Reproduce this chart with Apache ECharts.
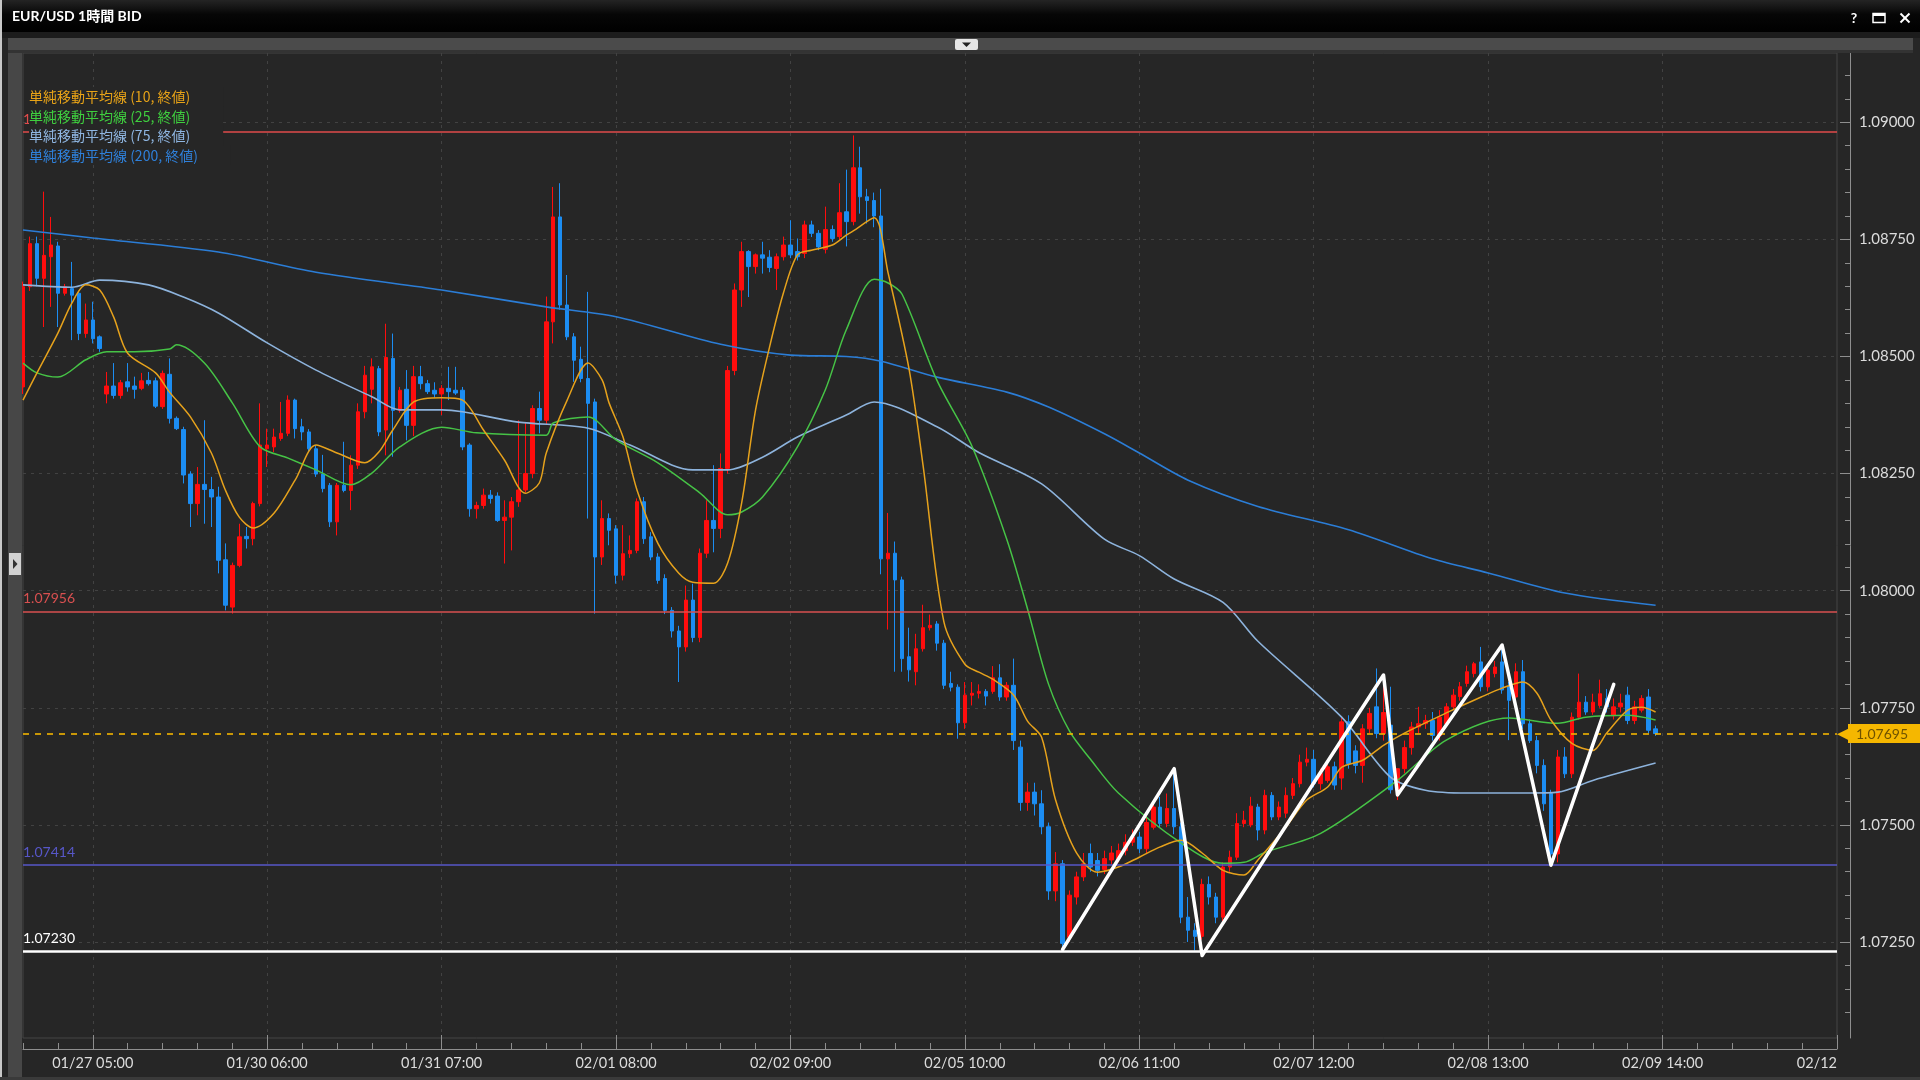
<!DOCTYPE html>
<html><head><meta charset="utf-8">
<script src="https://cdn.jsdelivr.net/npm/echarts@6/dist/echarts.min.js"></script>
<style>html,body{margin:0;padding:0;background:#262626;overflow:hidden}#c{width:1920px;height:1080px}</style>
</head><body><div id="c"></div>
<script>
// ---------- data ----------
const xTickIdx = [10,35,60,85,110,135,160,185,210,235,260];
const xTickLabels = ['01/27 05:00','01/30 06:00','01/31 07:00','02/01 08:00','02/02 09:00','02/05 10:00','02/06 11:00','02/07 12:00','02/08 13:00','02/09 14:00','02/12'];
const slotCount = 261;
const yTicks = [1.0725,1.0750,1.0775,1.0800,1.0825,1.0850,1.0875,1.0900];
const yMinorTicks = [1.0710,1.0715,1.0720,1.0730,1.0735,1.0740,1.0745,1.0755,1.0760,1.0765,1.0770,1.0780,1.0785,1.0790,1.0795,1.0805,1.0810,1.0815,1.0820,1.0830,1.0835,1.0840,1.0845,1.0855,1.0860,1.0865,1.0870,1.0880,1.0885,1.0890,1.0895,1.0905,1.0910];

const opens = [1.08435,1.08649,1.08741,1.08667,1.08713,1.08736,1.08635,1.08645,1.08635,1.08549,
1.08578,1.08542,1.08420,1.08437,1.08417,1.08446,1.08437,1.08432,1.08449,1.08448,
1.08393,1.08462,1.08368,1.08344,1.08249,1.08186,1.08227,1.08216,1.08200,1.08066,
1.07965,1.08054,1.08116,1.08111,1.08186,1.08303,1.08307,1.08325,1.08336,1.08407,
1.08350,1.08339,1.08303,1.08249,1.08225,1.08147,1.08225,1.08214,1.08268,1.08382,
1.08430,1.08474,1.08343,1.08496,1.08385,1.08430,1.08353,1.08457,1.08442,1.08428,
1.08420,1.08432,1.08428,1.08428,1.08311,1.08175,1.08182,1.08204,1.08202,1.08150,
1.08157,1.08190,1.08215,1.08250,1.08389,1.08364,1.08574,1.08798,1.08610,1.08542,
1.08494,1.08453,1.08403,1.08072,1.08154,1.08132,1.08033,1.08079,1.08086,1.08190,
1.08115,1.08072,1.08026,1.07958,1.07914,1.07880,1.07980,1.07900,1.08080,1.08150,
1.08133,1.08261,1.08470,1.08642,1.08724,1.08692,1.08717,1.08712,1.08688,1.08713,
1.08738,1.08724,1.08720,1.08781,1.08763,1.08729,1.08771,1.08756,1.08809,1.08788,
1.08903,1.08841,1.08833,1.08800,1.08068,1.08080,1.08023,1.07859,1.07827,1.07876,
1.07921,1.07929,1.07888,1.07802,1.07794,1.07718,1.07777,1.07781,1.07785,1.07785,
1.07814,1.07773,1.07798,1.07666,1.07548,1.07570,1.07545,1.07496,1.07359,1.07417,
1.07260,1.07346,1.07389,1.07439,1.07424,1.07405,1.07425,1.07428,1.07445,1.07463,
1.07474,1.07449,1.07495,1.07538,1.07503,1.07535,1.07496,1.07303,1.07275,1.07262,
1.07373,1.07346,1.07303,1.07410,1.07431,1.07503,1.07500,1.07538,1.07489,1.07563,
1.07517,1.07525,1.07563,1.07588,1.07634,1.07640,1.07588,1.07595,1.07624,1.07600,
1.07720,1.07658,1.07627,1.07705,1.07752,1.07695,1.07713,1.07575,1.07620,1.07665,
1.07709,1.07716,1.07723,1.07691,1.07716,1.07752,1.07774,1.07802,1.07823,1.07848,
1.07795,1.07823,1.07848,1.07795,1.07773,1.07827,1.07716,1.07680,1.07627,1.07567,
1.07438,1.07645,1.07609,1.07730,1.07762,1.07741,1.07755,1.07770,1.07733,1.07752,
1.07777,1.07723,1.07745,1.07773,1.07705];
const highs = [1.08660,1.08756,1.08756,1.08852,1.08798,1.08745,1.08655,1.08702,1.08640,1.08613,
1.08617,1.08545,1.08467,1.08486,1.08450,1.08486,1.08457,1.08465,1.08467,1.08455,
1.08470,1.08496,1.08372,1.08350,1.08255,1.08264,1.08364,1.08243,1.08222,1.08101,
1.08060,1.08143,1.08136,1.08190,1.08400,1.08346,1.08346,1.08403,1.08417,1.08410,
1.08367,1.08345,1.08310,1.08290,1.08230,1.08230,1.08318,1.08289,1.08400,1.08480,
1.08496,1.08480,1.08570,1.08549,1.08435,1.08471,1.08480,1.08480,1.08450,1.08445,
1.08439,1.08478,1.08478,1.08435,1.08315,1.08190,1.08218,1.08215,1.08210,1.08193,
1.08200,1.08364,1.08360,1.08396,1.08425,1.08628,1.08862,1.08870,1.08674,1.08550,
1.08521,1.08638,1.08410,1.08193,1.08165,1.08140,1.08140,1.08118,1.08197,1.08200,
1.08125,1.08080,1.08035,1.07965,1.07925,1.08011,1.08015,1.08090,1.08193,1.08268,
1.08293,1.08480,1.08656,1.08745,1.08727,1.08720,1.08745,1.08727,1.08720,1.08756,
1.08791,1.08752,1.08790,1.08790,1.08770,1.08820,1.08780,1.08870,1.08899,1.08972,
1.08948,1.08858,1.08850,1.08858,1.08166,1.08105,1.08030,1.07921,1.07908,1.07970,
1.07949,1.07935,1.07895,1.07827,1.07800,1.07805,1.07805,1.07800,1.07790,1.07839,
1.07843,1.07805,1.07855,1.07680,1.07590,1.07590,1.07574,1.07505,1.07442,1.07425,
1.07360,1.07400,1.07440,1.07460,1.07440,1.07445,1.07455,1.07460,1.07480,1.07490,
1.07485,1.07520,1.07550,1.07560,1.07567,1.07610,1.07505,1.07346,1.07290,1.07385,
1.07390,1.07355,1.07420,1.07445,1.07525,1.07530,1.07560,1.07545,1.07575,1.07570,
1.07550,1.07580,1.07600,1.07650,1.07665,1.07660,1.07620,1.07640,1.07635,1.07730,
1.07734,1.07670,1.07715,1.07750,1.07834,1.07800,1.07795,1.07620,1.07680,1.07720,
1.07752,1.07735,1.07741,1.07745,1.07760,1.07790,1.07805,1.07840,1.07848,1.07880,
1.07840,1.07850,1.07883,1.07805,1.07845,1.07852,1.07725,1.07690,1.07640,1.07575,
1.07660,1.07666,1.07740,1.07823,1.07775,1.07780,1.07810,1.07790,1.07770,1.07780,
1.07795,1.07765,1.07777,1.07790,1.07712];
const lows = [1.08420,1.08640,1.08650,1.08563,1.08606,1.08563,1.08630,1.08535,1.08535,1.08540,
1.08528,1.08510,1.08400,1.08410,1.08410,1.08425,1.08410,1.08428,1.08438,1.08390,
1.08388,1.08357,1.08343,1.08229,1.08136,1.08161,1.08143,1.08136,1.08037,1.07958,
1.07951,1.08050,1.08090,1.08097,1.08180,1.08264,1.08296,1.08320,1.08330,1.08325,
1.08321,1.08296,1.08243,1.08210,1.08136,1.08118,1.08210,1.08172,1.08260,1.08368,
1.08400,1.08330,1.08289,1.08286,1.08380,1.08321,1.08330,1.08430,1.08420,1.08412,
1.08375,1.08407,1.08418,1.08300,1.08158,1.08154,1.08175,1.08186,1.08147,1.08058,
1.08086,1.08179,1.08210,1.08240,1.08336,1.08355,1.08528,1.08600,1.08535,1.08446,
1.08445,1.08154,1.07951,1.08055,1.08097,1.08015,1.08022,1.08070,1.08080,1.08100,
1.08065,1.08015,1.07950,1.07900,1.07805,1.07870,1.07890,1.07890,1.08070,1.08082,
1.08112,1.08250,1.08460,1.08606,1.08627,1.08677,1.08677,1.08680,1.08642,1.08705,
1.08710,1.08705,1.08710,1.08755,1.08727,1.08720,1.08745,1.08750,1.08735,1.08780,
1.08805,1.08784,1.08776,1.08035,1.07917,1.07827,1.07827,1.07806,1.07798,1.07870,
1.07915,1.07872,1.07790,1.07785,1.07684,1.07705,1.07755,1.07770,1.07755,1.07780,
1.07765,1.07765,1.07660,1.07530,1.07530,1.07520,1.07480,1.07340,1.07337,1.07236,
1.07250,1.07330,1.07380,1.07400,1.07390,1.07395,1.07415,1.07420,1.07435,1.07455,
1.07440,1.07440,1.07490,1.07495,1.07495,1.07480,1.07290,1.07250,1.07232,1.07255,
1.07330,1.07290,1.07295,1.07400,1.07425,1.07495,1.07495,1.07467,1.07480,1.07510,
1.07510,1.07515,1.07555,1.07580,1.07625,1.07580,1.07575,1.07590,1.07575,1.07575,
1.07620,1.07610,1.07590,1.07695,1.07685,1.07680,1.07567,1.07553,1.07610,1.07650,
1.07695,1.07705,1.07680,1.07680,1.07710,1.07745,1.07765,1.07795,1.07815,1.07785,
1.07785,1.07815,1.07780,1.07681,1.07765,1.07705,1.07675,1.07610,1.07530,1.07420,
1.07420,1.07600,1.07600,1.07725,1.07735,1.07735,1.07750,1.07740,1.07725,1.07740,
1.07715,1.07715,1.07740,1.07695,1.07690];
const closes = [1.08649,1.08741,1.08667,1.08716,1.08738,1.08635,1.08649,1.08631,1.08549,1.08578,
1.08538,1.08517,1.08437,1.08417,1.08444,1.08435,1.08430,1.08448,1.08442,1.08394,
1.08464,1.08368,1.08346,1.08247,1.08186,1.08227,1.08216,1.08200,1.08065,1.07969,
1.08054,1.08115,1.08111,1.08186,1.08311,1.08311,1.08328,1.08336,1.08407,1.08346,
1.08339,1.08303,1.08249,1.08218,1.08147,1.08225,1.08214,1.08268,1.08382,1.08460,
1.08478,1.08339,1.08498,1.08385,1.08428,1.08353,1.08457,1.08442,1.08425,1.08420,
1.08432,1.08425,1.08422,1.08307,1.08175,1.08182,1.08204,1.08197,1.08150,1.08157,
1.08190,1.08215,1.08250,1.08389,1.08364,1.08574,1.08798,1.08610,1.08542,1.08492,
1.08453,1.08400,1.08072,1.08154,1.08129,1.08033,1.08079,1.08086,1.08190,1.08111,
1.08072,1.08022,1.07958,1.07914,1.07880,1.07980,1.07900,1.08080,1.08150,1.08133,
1.08261,1.08470,1.08642,1.08724,1.08692,1.08717,1.08710,1.08690,1.08713,1.08738,
1.08717,1.08713,1.08781,1.08763,1.08734,1.08771,1.08752,1.08807,1.08788,1.08903,
1.08841,1.08833,1.08800,1.08068,1.08080,1.08023,1.07855,1.07831,1.07876,1.07921,
1.07926,1.07888,1.07798,1.07794,1.07718,1.07777,1.07781,1.07785,1.07775,1.07814,
1.07773,1.07798,1.07680,1.07548,1.07570,1.07545,1.07496,1.07359,1.07417,1.07247,
1.07350,1.07389,1.07417,1.07410,1.07403,1.07428,1.07440,1.07445,1.07463,1.07474,
1.07449,1.07505,1.07538,1.07503,1.07535,1.07496,1.07303,1.07275,1.07262,1.07373,
1.07346,1.07303,1.07410,1.07431,1.07503,1.07510,1.07540,1.07489,1.07563,1.07517,
1.07538,1.07563,1.07588,1.07634,1.07640,1.07588,1.07610,1.07624,1.07585,1.07720,
1.07631,1.07627,1.07705,1.07738,1.07695,1.07740,1.07575,1.07620,1.07665,1.07709,
1.07716,1.07723,1.07691,1.07730,1.07752,1.07777,1.07795,1.07827,1.07844,1.07795,
1.07830,1.07837,1.07788,1.07766,1.07827,1.07716,1.07680,1.07627,1.07545,1.07438,
1.07645,1.07609,1.07730,1.07762,1.07741,1.07762,1.07780,1.07752,1.07752,1.07760,
1.07723,1.07752,1.07770,1.07702,1.07695];

const ma10 = [[0,1.08407],[2,1.08465],[5,1.08550],[7,1.08614],[9,1.08653],[11,1.08642],[13,1.08584],[15,1.08507],[19,1.08465],[21,1.08424],[24,1.08371],[27,1.08294],[29,1.08215],[31,1.08157],[33,1.08134],[36,1.08166],[39,1.08236],[42,1.08311],[45,1.08294],[49,1.08273],[51,1.08296],[53,1.08343],[56,1.08403],[60,1.08412],[63,1.08407],[66,1.08343],[69,1.08279],[72,1.08208],[74,1.08230],[75,1.08294],[78,1.08407],[81,1.08486],[83,1.08450],[84,1.08401],[86,1.08328],[88,1.08215],[91,1.08101],[94,1.08037],[96,1.08018],[99,1.08016],[101,1.08059],[103,1.08187],[105,1.08386],[107,1.08520],[109,1.08636],[111,1.08717],[113,1.08727],[116,1.08738],[118,1.08759],[119,1.08768],[122,1.08796],[124,1.08678],[127,1.08473],[129,1.08268],[132,1.07933],[135,1.07843],[137,1.07826],[139,1.07811],[142,1.07777],[144,1.07721],[146,1.07687],[148,1.07553],[151,1.07440],[154,1.07399],[157,1.07410],[160,1.07431],[163,1.07453],[166,1.07467],[169,1.07440],[172,1.07403],[175,1.07393],[177,1.07425],[181,1.07495],[184,1.07553],[187,1.07581],[189,1.07623],[192,1.07638],[195,1.07670],[198,1.07696],[204,1.07739],[209,1.07773],[212,1.07792],[215,1.07805],[217,1.07781],[219,1.07724],[222,1.07674],[225,1.07659],[227,1.07696],[230,1.07745],[232,1.07751],[234,1.07741]];
const ma25 = [[0,1.08486],[2,1.08465],[5,1.08456],[9,1.08493],[12,1.08510],[16,1.08510],[21,1.08516],[22,1.08525],[26,1.08486],[30,1.08401],[34,1.08307],[38,1.08283],[42,1.08258],[47,1.08226],[50,1.08251],[54,1.08307],[60,1.08349],[65,1.08337],[75,1.08332],[76,1.08358],[81,1.08371],[85,1.08322],[91,1.08273],[97,1.08209],[101,1.08162],[103,1.08168],[106,1.08200],[111,1.08307],[115,1.08429],[118,1.08557],[122,1.08665],[124,1.08657],[126,1.08633],[131,1.08449],[136,1.08309],[141,1.08110],[144,1.07960],[147,1.07800],[150,1.07700],[153,1.07640],[157,1.07568],[166,1.07461],[172,1.07418],[175,1.07420],[178,1.07441],[186,1.07482],[197,1.07595],[204,1.07681],[213,1.07728],[220,1.07717],[224,1.07730],[230,1.07734],[234,1.07724]];
const ma75 = [[0,1.08653],[7,1.08648],[11,1.08663],[18,1.08653],[23,1.08627],[28,1.08593],[35,1.08529],[42,1.08471],[50,1.08414],[54,1.08386],[60,1.08386],[63,1.08382],[71,1.08360],[81,1.08347],[87,1.08311],[96,1.08258],[101,1.08258],[106,1.08285],[111,1.08328],[118,1.08375],[122,1.08403],[131,1.08350],[137,1.08295],[146,1.08228],[155,1.08110],[160,1.08075],[165,1.08025],[172,1.07975],[177,1.07892],[189,1.07730],[196,1.07602],[201,1.07574],[207,1.07568],[216,1.07568],[220,1.07570],[225,1.07595],[234,1.07632]];
const ma200 = [[0,1.08770],[10,1.08753],[28,1.08723],[42,1.08680],[60,1.08642],[75,1.08606],[85,1.08585],[100,1.08526],[110,1.08503],[118,1.08500],[123,1.08490],[131,1.08456],[141,1.08424],[147,1.08392],[155,1.08335],[160,1.08294],[167,1.08236],[177,1.08180],[190,1.08130],[202,1.08068],[210,1.08038],[221,1.07995],[234,1.07969]];

const zigzagIdx = [149.1,164.9,168.9,195.1,197,212.3,219.2,227.6];
const zigzagPrice = [1.07234,1.07620,1.07221,1.07820,1.07564,1.07884,1.07414,1.07800];

const levelValues = [1.08979,1.07956,1.07414,1.07230];
const levelColors = ['#e04b4b','#d85050','#5757c8','#ffffff'];
const currentPrice = 1.07695;

const maNames = ['単純移動平均線 (10, 終値)','単純移動平均線 (25, 終値)','単純移動平均線 (75, 終値)','単純移動平均線 (200, 終値)'];
const maColors = ['#e6a21c','#46c346','#8db3dc','#2b7dd6'];
const maLegendColors = ['#e8a317','#3fcf3f','#8fb6e2','#2f80da'];

// ---------- build ----------
const cats = [];
for (let i = 0; i < slotCount; i++) cats.push(String(i));
const labelMap = {};
xTickIdx.forEach((v, k) => labelMap[v] = xTickLabels[k]);
const candles = opens.map((o, i) => [o, closes[i], lows[i], highs[i]]);
const zigzag = zigzagIdx.map((x, i) => [x, zigzagPrice[i]]);
const yMin = 1.07045, yMax = 1.09148;

const fontNum = 'Lato, "Noto Sans", sans-serif';
const fontJP = '"Noto Sans CJK JP", "Noto Sans", sans-serif';

const markLineData = levelValues.map((v, k) => ({
  yAxis: v,
  lineStyle: {color: levelColors[k], width: k === 3 ? 2.5 : 1.6, type: 'solid'},
  label: {show: true, position: 'insideStartTop', formatter: v.toFixed(5), color: levelColors[k], fontSize: 14, fontFamily: fontNum, distance: [0, 6]}
}));
markLineData.push({
  yAxis: currentPrice,
  lineStyle: {color: '#f2b300', width: 1.6, type: [6, 6]},
  label: {show: true, position: 'end', distance: 0,
    formatter: '{a|◀}{b|' + currentPrice.toFixed(5) + '}',
    rich: {
      a: {color: '#f5b700', fontSize: 18, lineHeight: 20, padding: [0, -3, 0, 0]},
      b: {backgroundColor: '#f5b700', color: '#6e5200', fontSize: 14, fontFamily: fontNum, padding: [3, 14, 2, 8], lineHeight: 15}
    }}
});

const chart = echarts.init(document.getElementById('c'), null, {width: 1920, height: 1080});
const option = {
  backgroundColor: '#262626',
  animation: false,
  textStyle: {fontFamily: fontNum},
  grid: {left: 23, right: 83, top: 53, bottom: 42, show: true, backgroundColor: '#262626', borderColor: '#454545', borderWidth: 1},
  legend: {
    left: 24, top: 87, orient: 'vertical', icon: 'none', itemWidth: 0, itemHeight: 14, itemGap: 0,
    padding: 0, selectedMode: false, z: 20,
    textStyle: {fontSize: 14, fontFamily: fontJP, lineHeight: 19.5, backgroundColor: '#262626', padding: [0, 33, 0, 0]},
    data: maNames.map((n, k) => ({name: n, textStyle: {color: maLegendColors[k]}}))
  },
  xAxis: [{
    type: 'category', data: cats, boundaryGap: false, position: 'bottom', offset: 11,
    axisLine: {show: true, lineStyle: {color: '#8e8e8e'}},
    axisTick: {show: true, inside: true, length: 14, interval: (i) => labelMap[i] !== undefined, lineStyle: {color: '#8e8e8e'}},
    axisLabel: {show: true, interval: (i) => labelMap[i] !== undefined, formatter: (v, i) => labelMap[i] || '', color: '#dcdcdc', fontSize: 14.5, fontFamily: fontNum, margin: 7, alignMaxLabel: 'right'},
    splitLine: {show: true, interval: (i) => labelMap[i] !== undefined && i < slotCount - 1, lineStyle: {color: '#424242', type: [3, 5]}}
  }, {
    type: 'category', data: cats, boundaryGap: false, position: 'bottom', offset: 11,
    axisLine: {show: false},
    axisTick: {show: true, inside: true, length: 6, interval: (i) => i % 5 === 0, lineStyle: {color: '#8e8e8e'}},
    axisLabel: {show: false}, splitLine: {show: false}
  }],
  yAxis: [{
    type: 'value', position: 'right', min: yMin, max: yMax, offset: 13,
    axisLine: {show: true, lineStyle: {color: '#8e8e8e'}},
    axisTick: {show: true, inside: true, length: 10, customValues: yTicks, lineStyle: {color: '#8e8e8e'}},
    axisLabel: {show: true, customValues: yTicks, formatter: (v) => v.toFixed(5), color: '#dcdcdc', fontSize: 15, fontFamily: fontNum, margin: 9},
    splitLine: {show: true, lineStyle: {color: '#424242', type: [3, 5]}}
  }, {
    type: 'value', position: 'right', min: yMin, max: yMax, offset: 13,
    axisLine: {show: false},
    axisTick: {show: true, inside: true, length: 5, customValues: yMinorTicks, lineStyle: {color: '#8e8e8e'}},
    axisLabel: {show: false}, splitLine: {show: false}
  }],
  series: [
    {type: 'candlestick', name: 'EUR/USD', data: candles, barWidth: 4, z: 2,
      itemStyle: {color: '#ff0d0d', color0: '#1c8df2', borderColor: '#ff0d0d', borderColor0: '#1c8df2', borderWidth: 1}},
    {type: 'line', name: maNames[3], data: ma200, smooth: 0.3, showSymbol: false, symbol: 'none', z: 3,
      lineStyle: {color: maColors[3], width: 1.6}, itemStyle: {color: maColors[3]},
      markLine: {silent: true, symbol: ['none', 'none'], animation: false, precision: 5, data: markLineData}},
    {type: 'line', name: maNames[2], data: ma75, smooth: 0.3, showSymbol: false, symbol: 'none', z: 3,
      lineStyle: {color: maColors[2], width: 1.6}, itemStyle: {color: maColors[2]}},
    {type: 'line', name: maNames[1], data: ma25, smooth: 0.3, showSymbol: false, symbol: 'none', z: 3,
      lineStyle: {color: maColors[1], width: 1.5}, itemStyle: {color: maColors[1]}},
    {type: 'line', name: maNames[0], data: ma10, smooth: 0.3, showSymbol: false, symbol: 'none', z: 3,
      lineStyle: {color: maColors[0], width: 1.5}, itemStyle: {color: maColors[0]}},
    {type: 'line', name: 'zigzag', data: zigzag, showSymbol: false, symbol: 'none', z: 5,
      lineStyle: {color: '#ffffff', width: 3.5, cap: 'round', join: 'round'}}
  ],
  graphic: [
    {type: 'rect', z: 100, shape: {x: 0, y: 0, width: 1920, height: 32},
      style: {fill: new echarts.graphic.LinearGradient(0, 0, 0, 1, [{offset: 0, color: '#242424'}, {offset: 0.45, color: '#060606'}, {offset: 1, color: '#000000'}])}},
    {type: 'rect', z: 100, shape: {x: 0, y: 32, width: 1920, height: 6}, style: {fill: '#1c1c1c'}},
    {type: 'rect', z: 100, shape: {x: 8, y: 38, width: 1905, height: 12}, style: {fill: '#4b4b4b'}},
    {type: 'rect', z: 100, shape: {x: 8, y: 50, width: 1905, height: 3}, style: {fill: '#333333'}},
    {type: 'rect', z: 101, shape: {x: 955, y: 39, width: 23, height: 11, r: 2}, style: {fill: '#e6e6e6'}},
    {type: 'polygon', z: 102, shape: {points: [[962, 42.5], [971, 42.5], [966.5, 47]]}, style: {fill: '#222222'}},
    {type: 'rect', z: 100, shape: {x: 8, y: 53, width: 14, height: 1027}, style: {fill: '#474747'}},
    {type: 'rect', z: 101, shape: {x: 9, y: 553, width: 12, height: 22}, style: {fill: '#d2d2d2'}},
    {type: 'polygon', z: 102, shape: {points: [[13, 559], [13, 569], [17.5, 564]]}, style: {fill: '#333333'}},
    {type: 'rect', z: 103, shape: {x: 0, y: 0, width: 2, height: 1080}, style: {fill: '#c8c8c8'}},
    {type: 'rect', z: 103, shape: {x: 0, y: 1077, width: 1920, height: 3}, style: {fill: '#3a3a3a'}},
    {type: 'text', z: 104, style: {text: 'EUR/USD 1時間 BID', x: 12, y: 16, fill: '#ffffff', font: 'bold 14px Lato, "Noto Sans CJK JP", sans-serif', verticalAlign: 'middle'}},
    {type: 'text', z: 104, style: {text: '?', x: 1854, y: 18, fill: '#ffffff', font: 'bold 14px Lato, sans-serif', verticalAlign: 'middle', align: 'center'}},
    {type: 'rect', z: 104, shape: {x: 1873, y: 13.5, width: 12, height: 9}, style: {fill: 'none', stroke: '#ffffff', lineWidth: 1.5}},
    {type: 'rect', z: 104, shape: {x: 1873, y: 13, width: 12, height: 3}, style: {fill: '#ffffff'}},
    {type: 'line', z: 104, shape: {x1: 1900.5, y1: 13.5, x2: 1909.5, y2: 22.5}, style: {stroke: '#ffffff', lineWidth: 2}},
    {type: 'line', z: 104, shape: {x1: 1909.5, y1: 13.5, x2: 1900.5, y2: 22.5}, style: {stroke: '#ffffff', lineWidth: 2}}
  ]
};
chart.setOption(option);
</script>
</body></html>
